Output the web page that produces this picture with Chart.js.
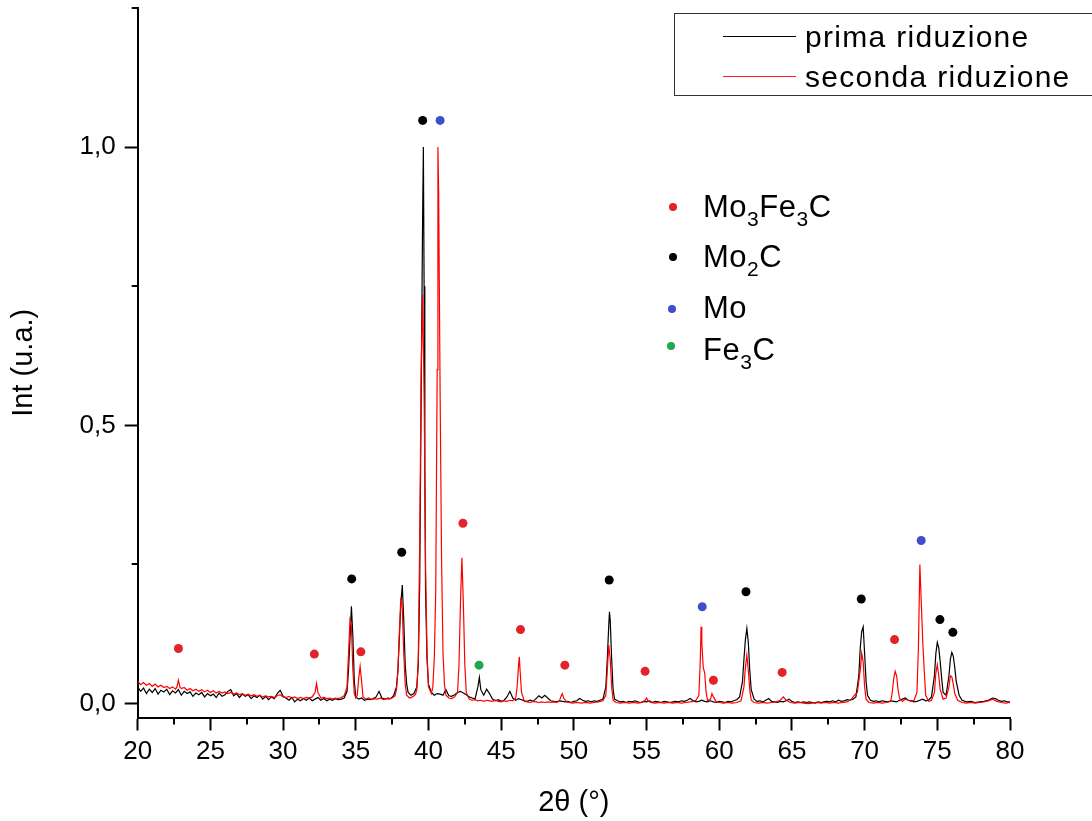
<!DOCTYPE html>
<html>
<head>
<meta charset="utf-8">
<title>XRD riduzione</title>
<script src="https://cdn.jsdelivr.net/npm/chart.js@4.4.0/dist/chart.umd.min.js"></script>
<style>
  body { margin: 0; background: #fff; overflow: hidden; font-family: "Liberation Sans", Arial, sans-serif; }
  #wrap { position: relative; width: 1092px; height: 821px; }
  .ov { position: absolute; white-space: nowrap; color: #000; }
  .legbox { position: absolute; left: 674px; top: 13px; width: 440px; height: 81px; border: 1px solid #333; }
  .sample { position: absolute; left: 723px; width: 73px; height: 0; }
  .ltxt { font-size: 30px; letter-spacing: 1.3px; line-height: 40px; left: 805px; }
  .dot { position: absolute; width: 8px; height: 8px; border-radius: 50%; }
  .ptxt { font-size: 31px; letter-spacing: 0.5px; line-height: 40px; left: 703px; }
  .ptxt span { font-size: 21px; position: relative; top: 9px; }
</style>
</head>
<body>
<div id="wrap">
  <canvas id="myGraph"></canvas>

  <div class="legbox"></div>
  <div class="sample" style="top:36px; border-top:1.3px solid #000;"></div>
  <div class="sample" style="top:76px; border-top:1.3px solid #ff2020;"></div>
  <div class="ov ltxt" style="top:17px;">prima riduzione</div>
  <div class="ov ltxt" style="top:57px;">seconda riduzione</div>

  <div class="dot" style="left:669px; top:203px; background:#e3232b;"></div>
  <div class="dot" style="left:669px; top:253px; background:#000;"></div>
  <div class="dot" style="left:668px; top:305px; background:#3f4fc9;"></div>
  <div class="dot" style="left:667px; top:342px; background:#1fa84f;"></div>
  <div class="ov ptxt" style="top:187px;">Mo<span>3</span>Fe<span>3</span>C</div>
  <div class="ov ptxt" style="top:237px;">Mo<span>2</span>C</div>
  <div class="ov ptxt" style="top:288px;">Mo</div>
  <div class="ov ptxt" style="top:330px;">Fe<span>3</span>C</div>
</div>

<script>
// prima riduzione (black)
const primaAngles = [
  20.0,20.2,20.4,20.6,20.8,21.0,21.2,21.4,21.6,21.8,
  22.0,22.2,22.4,22.6,22.8,23.0,23.2,23.4,23.6,23.8,
  24.0,24.2,24.4,24.6,24.8,25.0,25.2,25.4,25.6,25.8,
  26.0,26.2,26.4,26.6,26.8,27.0,27.2,27.4,27.6,27.8,
  28.0,28.2,28.4,28.6,28.8,29.0,29.2,29.4,29.6,29.8,
  30.0,30.2,30.4,30.6,30.8,31.0,31.2,31.4,31.6,31.8,
  32.0,32.2,32.4,32.6,32.8,33.0,33.2,33.4,33.6,33.8,
  34.0,34.2,34.4,34.5,34.6,34.7,34.8,34.9,35.0,35.2,
  35.4,35.6,35.8,36.0,36.2,36.4,36.6,36.8,37.0,37.2,
  37.4,37.6,37.8,37.9,38.0,38.1,38.2,38.3,38.4,38.5,
  38.6,38.8,39.0,39.2,39.3,39.4,39.5,39.6,39.65,39.7,
  39.75,39.8,39.9,40.0,40.2,40.4,40.6,40.8,41.0,41.2,
  41.4,41.6,41.8,42.0,42.2,42.4,42.6,42.8,43.0,43.2,
  43.4,43.5,43.6,43.8,44.0,44.2,44.4,44.6,44.8,45.0,
  45.2,45.4,45.6,45.8,46.0,46.2,46.4,46.6,46.8,47.0,
  47.2,47.4,47.6,47.8,48.0,48.2,48.4,48.6,48.8,49.0,
  49.2,49.4,49.6,49.8,50.0,50.2,50.4,50.6,50.8,51.0,
  51.2,51.4,51.6,51.8,52.0,52.2,52.3,52.4,52.45,52.5,
  52.6,52.7,52.8,53.0,53.2,53.4,53.6,53.8,54.0,54.2,
  54.4,54.6,54.8,55.0,55.2,55.4,55.6,55.8,56.0,56.2,
  56.4,56.6,56.8,57.0,57.2,57.4,57.6,57.8,58.0,58.2,
  58.4,58.6,58.8,59.0,59.2,59.4,59.6,59.8,60.0,60.2,
  60.4,60.6,60.8,61.0,61.2,61.4,61.6,61.7,61.8,61.9,
  62.0,62.1,62.2,62.4,62.6,62.8,63.0,63.2,63.4,63.6,
  63.8,64.0,64.2,64.4,64.6,64.8,65.0,65.2,65.4,65.6,
  65.8,66.0,66.2,66.4,66.6,66.8,67.0,67.2,67.4,67.6,
  67.8,68.0,68.2,68.4,68.6,68.8,69.0,69.2,69.4,69.6,
  69.7,69.8,69.9,70.0,70.1,70.2,70.4,70.6,70.8,71.0,
  71.2,71.4,71.6,71.8,72.0,72.2,72.4,72.6,72.8,73.0,
  73.2,73.4,73.6,73.8,74.0,74.2,74.4,74.6,74.8,74.9,
  75.0,75.1,75.2,75.3,75.4,75.6,75.8,75.9,76.0,76.1,
  76.2,76.3,76.5,76.7,77.0,77.3,77.6,77.9,78.2,78.5,
  78.8,79.0,79.2,79.4,79.6,79.8,80.0
];
const primaInt = [
  .030,.022,.028,.018,.026,.020,.027,.017,.024,.021,
  .026,.016,.023,.019,.025,.015,.022,.018,.021,.013,
  .019,.016,.020,.012,.018,.014,.017,.011,.019,.013,
  .016,.022,.025,.014,.018,.011,.017,.013,.016,.009,
  .014,.011,.015,.008,.013,.007,.012,.009,.018,.024,
  .013,.010,.006,.011,.003,.008,.005,.009,.006,.010,
  .005,.008,.011,.006,.009,.005,.008,.006,.009,.007,
  .008,.010,.022,.060,.115,.175,.120,.040,.012,.008,
  .010,.006,.008,.007,.009,.012,.022,.010,.008,.010,
  .009,.014,.030,.060,.120,.180,.213,.150,.070,.035,
  .020,.015,.018,.030,.070,.220,.560,.880,1.000,.750,
  .420,.200,.080,.035,.020,.015,.018,.017,.015,.025,
  .014,.013,.016,.020,.022,.019,.016,.012,.010,.008,
  .030,.047,.025,.015,.026,.018,.008,.005,.007,.004,
  .006,.012,.022,.010,.006,.009,.007,.005,.004,.006,
  .004,.009,.014,.010,.015,.010,.005,.004,.003,.005,
  .004,.003,.004,.002,.004,.005,.009,.006,.004,.005,
  .003,.005,.004,.006,.008,.030,.080,.140,.165,.150,
  .080,.025,.008,.005,.003,.004,.002,.004,.003,.005,
  .003,.002,.004,.003,.005,.002,.004,.003,.002,.004,
  .003,.002,.003,.004,.003,.005,.004,.006,.009,.005,
  .003,.004,.006,.004,.003,.005,.003,.002,.004,.003,
  .002,.004,.003,.005,.007,.012,.040,.080,.115,.135,
  .110,.060,.025,.008,.004,.005,.003,.006,.009,.004,
  .003,.002,.004,.003,.005,.008,.004,.002,.003,.002,
  .003,.002,.003,.002,.001,.003,.002,.003,.004,.003,
  .005,.003,.006,.004,.005,.007,.006,.008,.012,.050,
  .100,.130,.138,.090,.040,.015,.006,.004,.005,.003,
  .005,.004,.003,.005,.004,.003,.006,.008,.010,.006,
  .005,.003,.004,.006,.008,.005,.006,.012,.050,.090,
  .110,.100,.075,.045,.020,.015,.050,.080,.092,.085,
  .065,.040,.015,.006,.003,.004,.002,.003,.004,.006,
  .010,.009,.006,.004,.005,.003,.003
];

// seconda riduzione (red)
const secondaAngles = [
  20.0,20.2,20.4,20.6,20.8,21.0,21.2,21.4,21.6,21.8,
  22.0,22.2,22.4,22.6,22.7,22.8,22.9,23.0,23.2,23.4,
  23.6,23.8,24.0,24.2,24.4,24.6,24.8,25.0,25.2,25.4,
  25.6,25.8,26.0,26.2,26.4,26.6,26.8,27.0,27.2,27.4,
  27.6,27.8,28.0,28.2,28.4,28.6,28.8,29.0,29.2,29.4,
  29.6,29.8,30.0,30.2,30.4,30.6,30.8,31.0,31.2,31.4,
  31.6,31.8,32.0,32.2,32.3,32.4,32.6,32.8,33.0,33.2,
  33.4,33.6,33.8,34.0,34.2,34.4,34.5,34.6,34.7,34.8,
  34.9,35.0,35.1,35.2,35.3,35.4,35.5,35.7,35.9,36.1,
  36.3,36.5,36.7,36.9,37.1,37.3,37.5,37.7,37.8,37.9,
  38.0,38.1,38.2,38.3,38.4,38.5,38.7,38.9,39.1,39.2,
  39.3,39.4,39.5,39.6,39.7,39.8,39.9,40.0,40.2,40.3,
  40.4,40.5,40.6,40.65,40.7,40.8,40.9,41.0,41.1,41.2,
  41.4,41.6,41.8,42.0,42.1,42.2,42.3,42.4,42.5,42.6,
  42.8,43.0,43.2,43.4,43.6,43.8,44.0,44.2,44.4,44.6,
  44.8,45.0,45.2,45.4,45.6,45.8,46.0,46.1,46.2,46.25,
  46.3,46.4,46.6,46.8,47.0,47.2,47.4,47.6,47.8,48.0,
  48.2,48.4,48.6,48.8,49.0,49.1,49.2,49.3,49.5,49.7,
  49.9,50.2,50.5,50.8,51.1,51.4,51.7,52.0,52.2,52.3,
  52.4,52.5,52.6,52.7,52.9,53.2,53.5,53.8,54.1,54.4,
  54.7,54.9,55.0,55.1,55.3,55.6,55.9,56.2,56.5,56.8,
  57.1,57.4,57.7,58.0,58.2,58.4,58.6,58.7,58.75,58.8,
  58.9,59.0,59.1,59.2,59.4,59.5,59.6,59.8,60.0,60.3,
  60.6,60.9,61.2,61.5,61.7,61.8,61.9,62.0,62.1,62.2,
  62.4,62.7,63.0,63.3,63.6,63.9,64.2,64.4,64.6,64.9,
  65.2,65.5,65.8,66.1,66.4,66.7,67.0,67.3,67.6,67.9,
  68.2,68.5,68.8,69.1,69.3,69.5,69.7,69.8,69.9,70.0,
  70.1,70.3,70.6,70.9,71.2,71.5,71.8,71.9,72.0,72.1,
  72.2,72.3,72.4,72.6,72.8,73.0,73.2,73.4,73.6,73.7,
  73.8,73.9,74.0,74.1,74.2,74.4,74.6,74.8,74.9,75.0,
  75.1,75.2,75.4,75.6,75.8,75.9,76.0,76.1,76.2,76.4,
  76.7,77.0,77.3,77.6,77.9,78.2,78.5,78.8,79.1,79.4,
  79.7,80.0
];
const secondaInt = [
  .040,.034,.038,.033,.036,.031,.035,.030,.033,.029,
  .031,.027,.030,.026,.030,.042,.030,.027,.029,.024,
  .027,.023,.026,.022,.025,.021,.024,.020,.023,.019,
  .022,.019,.021,.018,.020,.017,.019,.016,.018,.015,
  .017,.014,.016,.013,.015,.012,.014,.012,.013,.011,
  .014,.016,.012,.011,.013,.010,.012,.009,.011,.009,
  .011,.010,.012,.020,.036,.020,.010,.011,.009,.010,
  .008,.010,.009,.011,.014,.030,.090,.150,.140,.060,
  .018,.010,.015,.045,.067,.040,.012,.008,.010,.007,
  .009,.008,.010,.007,.009,.008,.010,.014,.025,.060,
  .130,.190,.170,.090,.035,.015,.010,.012,.016,.025,
  .080,.300,.600,.735,.560,.250,.090,.030,.018,.030,
  .080,.200,.600,1.000,.920,.560,.260,.090,.035,.015,
  .010,.009,.012,.020,.070,.180,.262,.180,.070,.020,
  .008,.006,.007,.005,.006,.004,.006,.005,.004,.006,
  .004,.003,.005,.004,.006,.005,.010,.030,.070,.084,
  .060,.020,.004,.003,.002,.004,.003,.002,.003,.002,
  .003,.002,.003,.002,.004,.012,.018,.010,.003,.002,
  .001,.002,.001,.002,.001,.002,.003,.005,.015,.060,
  .105,.080,.030,.006,.002,.001,.002,.001,.002,.001,
  .002,.006,.010,.005,.002,.001,.002,.001,.002,.001,
  .002,.001,.002,.003,.004,.006,.015,.080,.138,.110,
  .065,.055,.020,.005,.008,.018,.012,.003,.002,.001,
  .002,.001,.002,.005,.030,.065,.087,.060,.025,.006,
  .002,.001,.002,.001,.002,.003,.006,.012,.006,.002,
  .001,.002,.001,.000,.001,.002,.001,.002,.001,.002,
  .001,.002,.003,.008,.015,.020,.060,.090,.075,.030,
  .008,.002,.001,.002,.001,.002,.004,.020,.045,.058,
  .050,.025,.010,.004,.008,.006,.004,.006,.020,.100,
  .250,.180,.110,.060,.015,.004,.006,.020,.055,.070,
  .050,.025,.008,.010,.030,.050,.048,.035,.018,.006,
  .002,.001,.002,.001,.002,.003,.005,.008,.004,.002,
  .001,.002
];

// phase markers (dots above the peaks)
const mo3fe3cAngles = [22.8, 32.15, 35.35, 42.37, 46.33, 49.38, 54.9, 59.6, 64.33, 72.06];
const mo3fe3cY = [0.099, 0.089, 0.093, 0.324, 0.133, 0.069, 0.058, 0.042, 0.056, 0.115];
const mo2cAngles = [34.72, 38.16, 39.6, 52.43, 61.84, 69.77, 75.18, 76.07];
const mo2cY = [0.224, 0.272, 1.048, 0.222, 0.201, 0.188, 0.151, 0.128];
const moAngles = [40.8, 58.83, 73.89];
const moY = [1.048, 0.174, 0.293];
const fe3cAngles = [43.48];
const fe3cY = [0.069];

const yTickValues = [0, 0.5, 1.0];
const yMinorValues = [0.25, 0.75, 1.25];
const xMinorValues = [22.5, 27.5, 32.5, 37.5, 42.5, 47.5, 52.5, 57.5, 62.5, 67.5, 72.5, 77.5];

function toPoints(xs, ys) {
    return xs.map((x, i) => ({ x: x, y: ys[i] }));
}

// Origin-style minor ticks
const minorTicks = {
    id: 'minorTicks',
    afterDraw(chart) {
        const ctx = chart.ctx;
        const xs = chart.scales.x;
        const ys = chart.scales.y;
        const area = chart.chartArea;
        ctx.save();
        ctx.strokeStyle = '#000';
        ctx.lineWidth = 2;
        ctx.beginPath();
        xMinorValues.forEach(v => {
            const px = Math.round(xs.getPixelForValue(v));
            ctx.moveTo(px, area.bottom);
            ctx.lineTo(px, area.bottom + 7);
        });
        yMinorValues.forEach(v => {
            const py = Math.round(ys.getPixelForValue(v));
            ctx.moveTo(area.left - 6, py);
            ctx.lineTo(area.left, py);
        });
        ctx.stroke();
        ctx.restore();
    }
};

const FONT = '"Liberation Sans", Arial, sans-serif';

const ctx = document.getElementById('myGraph').getContext('2d');
const data = {
    datasets: [
        {
            label: 'prima riduzione',
            data: toPoints(primaAngles, primaInt),
            borderColor: '#000000',
            borderWidth: 1.2,
            pointRadius: 0,
            order: 3
        },
        {
            label: 'seconda riduzione',
            data: toPoints(secondaAngles, secondaInt),
            borderColor: '#ff0000',
            borderWidth: 1.2,
            pointRadius: 0,
            order: 2
        },
        {
            type: 'scatter',
            label: 'Mo3Fe3C',
            data: toPoints(mo3fe3cAngles, mo3fe3cY),
            backgroundColor: '#e3232b',
            borderWidth: 0,
            pointRadius: 4.5,
            order: 1
        },
        {
            type: 'scatter',
            label: 'Mo2C',
            data: toPoints(mo2cAngles, mo2cY),
            backgroundColor: '#000000',
            borderWidth: 0,
            pointRadius: 4.5,
            order: 1
        },
        {
            type: 'scatter',
            label: 'Mo',
            data: toPoints(moAngles, moY),
            backgroundColor: '#3f4fc9',
            borderWidth: 0,
            pointRadius: 4.5,
            order: 1
        },
        {
            type: 'scatter',
            label: 'Fe3C',
            data: toPoints(fe3cAngles, fe3cY),
            backgroundColor: '#1fa84f',
            borderWidth: 0,
            pointRadius: 4.5,
            order: 1
        }
    ]
};

const myChart = new Chart(ctx, {
    type: 'line',
    data: data,
    options: {
        responsive: true,
        maintainAspectRatio: false,
        animation: false,
        layout: { padding: { left: 0, top: 8, right: 82, bottom: 0 } },
        plugins: {
            legend: { display: false },
            tooltip: { enabled: false }
        },
        scales: {
            x: {
                type: 'linear',
                min: 20,
                max: 80,
                ticks: {
                    stepSize: 5,
                    color: '#000',
                    padding: 6,
                    maxRotation: 0,
                    font: { family: FONT, size: 26 }
                },
                grid: {
                    drawOnChartArea: false,
                    drawTicks: true,
                    tickLength: 13,
                    tickWidth: 2,
                    tickColor: '#000'
                },
                border: { display: true, color: '#000', width: 2 },
                title: {
                    display: true,
                    text: '2θ (°)',
                    color: '#000',
                    font: { family: FONT, size: 29 },
                    padding: { top: 0, bottom: 1 }
                },
                afterFit: (scale) => {
                    scale.height = 103.5;
                    scale.paddingLeft = 0;
                    scale.paddingRight = 0;
                }
            },
            y: {
                min: -0.025,
                max: 1.25,
                afterBuildTicks: (scale) => {
                    scale.ticks = yTickValues.map(v => ({ value: v }));
                },
                ticks: {
                    color: '#000',
                    padding: 9,
                    font: { family: FONT, size: 26 },
                    callback: (v) => v.toFixed(1).replace('.', ',')
                },
                grid: {
                    drawOnChartArea: false,
                    drawTicks: true,
                    tickLength: 13,
                    tickWidth: 2,
                    tickColor: '#000'
                },
                border: { display: true, color: '#000', width: 2 },
                title: {
                    display: true,
                    text: 'Int (u.a.)',
                    color: '#000',
                    font: { family: FONT, size: 29 },
                    padding: { top: 7, bottom: 0 }
                },
                afterFit: (scale) => {
                    scale.width = 137.7;
                    scale.paddingTop = 0;
                    scale.paddingBottom = 0;
                }
            }
        }
    },
    plugins: [minorTicks]
});
</script>
</body>
</html>
